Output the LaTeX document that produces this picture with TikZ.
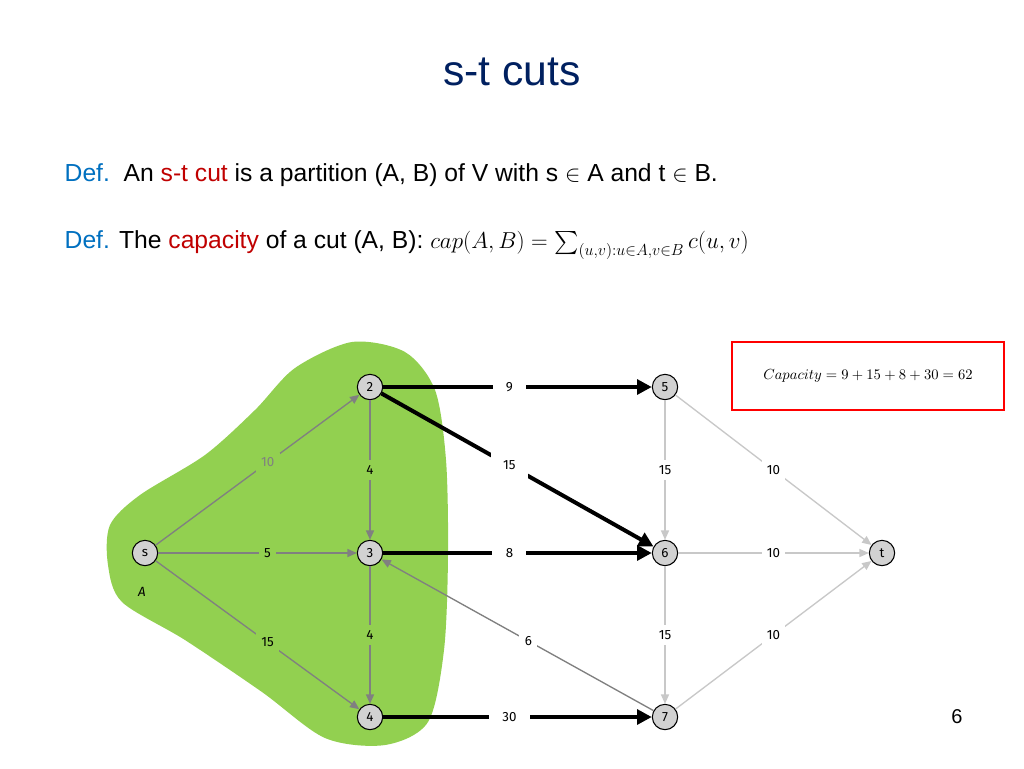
\documentclass[tikz,border=0pt]{standalone}
\usepackage{fontspec}
\usepackage{amsmath}
\setmainfont{Liberation Sans}
\newfontfamily\nodefont{Fira Sans}
\usetikzlibrary{arrows.meta}
\definecolor{titleblue}{RGB}{0,32,96}
\definecolor{defblue}{RGB}{0,112,192}
\definecolor{defred}{RGB}{192,0,0}
\definecolor{blob}{RGB}{146,208,80}
\definecolor{lg}{RGB}{200,200,200}
\definecolor{mg}{RGB}{128,128,128}
\definecolor{vert}{RGB}{210,210,210}
\begin{document}
\begin{tikzpicture}[x=0.75pt,y=-0.75pt,
  vtx/.style={circle,draw=black,thick,fill=vert,minimum size=19pt,inner sep=0pt,font=\nodefont\fontsize{10}{10}\selectfont},
  lbl/.style={font=\nodefont\fontsize{10}{10}\selectfont,inner sep=4pt},
  wl/.style={lbl,fill=white},
  gl/.style={lbl,fill=blob},
  thin/.style={draw=mg,line width=1pt,-{Triangle[length=7pt,width=6pt]}},
  light/.style={draw=lg,line width=1pt,-{Triangle[length=7pt,width=6pt]}},
  cut/.style={draw=black,line width=3pt,-{Triangle[length=11pt,width=11pt]}}]
\useasboundingbox (0,0) rectangle (1024,768);
\fill[white] (0,0) rectangle (1024,768);
% blob
\fill[blob] plot[smooth cycle,tension=0.5] coordinates {(110,525) (140,495) (205,455) (255,410) (295,368) (352,342) (405,352) (435,390) (446,460) (448,555) (444,650) (428,722) (385,745) (325,738) (262,692) (185,640) (122,602) (108,565)};
% title
\node[text=titleblue,font=\fontsize{32}{36}\selectfont] (title) at (512,72) {s-t cuts};
\node[anchor=west,font=\fontsize{18.5}{22}\selectfont] (def1) at (60,175) {\textcolor{defblue}{Def.}\ \ An \textcolor{defred}{s-t cut} is a partition (A, B) of V with s $\in$ A and t $\in$ B.};
\node[anchor=west,font=\fontsize{18.5}{22}\selectfont] (def2) at (60,245) {\textcolor{defblue}{Def.} The \textcolor{defred}{capacity} of a cut (A, B): $cap(A,B)=\sum_{(u,v):u\in A, v\in B} c(u,v)$};
% vertices
\node[vtx] (s) at (145,553) {s};
\node[vtx] (n2) at (370,387) {2};
\node[vtx] (n3) at (370,553) {3};
\node[vtx] (n4) at (370,717) {4};
\node[vtx] (n5) at (665,387) {5};
\node[vtx] (n6) at (665,553) {6};
\node[vtx] (n7) at (665,717) {7};
\node[vtx] (t) at (882,553) {t};
\node[font=\nodefont\itshape\fontsize{10}{10}\selectfont] (A) at (142,592) {A};
% inner edges
\draw[thin] (s) -- (n2) node[gl,pos=0.55,text=mg] {10};
\draw[thin] (s) -- (n3) node[gl,pos=0.55] {5};
\draw[thin] (s) -- (n4) node[gl,pos=0.55] {15};
\draw[thin] (n2) -- (n3) node[gl,midway] {4};
\draw[thin] (n3) -- (n4) node[gl,midway] {4};
\draw[thin] (n7) -- (n3) node[wl,pos=0.46] {6};
% right edges
\draw[light] (n5) -- (n6) node[wl,midway] {15};
\draw[light] (n6) -- (n7) node[wl,midway] {15};
\draw[light] (n5) -- (t) node[wl,midway] {10};
\draw[light] (n6) -- (t) node[wl,midway] {10};
\draw[light] (n7) -- (t) node[wl,midway] {10};
% cut edges
\draw[cut] (n2) -- (n5) node[wl,pos=0.47,inner sep=10pt] {9};
\draw[cut] (n2) -- (n6) node[wl,pos=0.47,inner sep=9pt] {15};
\draw[cut] (n3) -- (n6) node[wl,pos=0.47,inner sep=10pt] {8};
\draw[cut] (n4) -- (n7) node[wl,pos=0.47,inner sep=10pt] {30};
% capacity box
\node[draw=red,line width=2.2pt,minimum width=204pt,minimum height=51pt] (cap) at (868,376) {\fontsize{11}{12}\selectfont$Capacity=9+15+8+30=62$};
\node[font=\fontsize{15}{18}\selectfont] (pg) at (957,717) {6};
\end{tikzpicture}
\end{document}
